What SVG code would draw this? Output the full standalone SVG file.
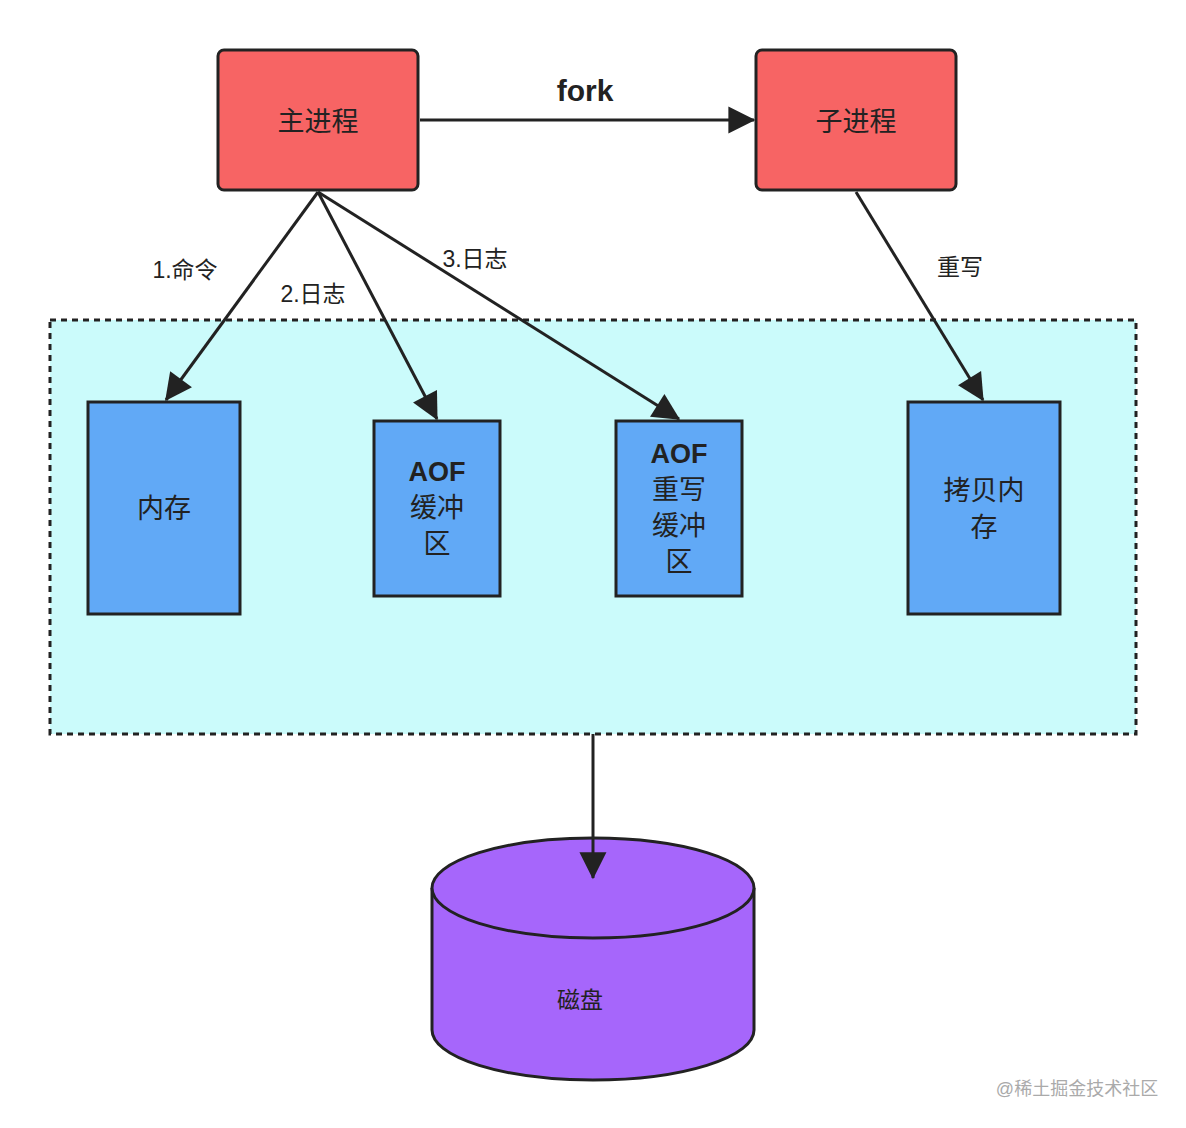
<svg xmlns="http://www.w3.org/2000/svg" width="1186" height="1128" viewBox="0 0 1186 1128">
<style>
text{font-family:"Liberation Sans","Noto Sans CJK SC",sans-serif;fill:#222;text-anchor:middle}
.proc{fill:#f76464;stroke:#222;stroke-width:3}
.mem{fill:#61a9f6;stroke:#222;stroke-width:3}
.c{stroke:#222;stroke-width:3;fill:none;marker-end:url(#a)}
.t{font-size:27px}
.l{font-size:23px}
</style>
<defs><marker id="a" viewBox="0 0 10 10" refX="9" refY="5" markerWidth="9" markerHeight="9" markerUnits="userSpaceOnUse" orient="auto" style="overflow:visible"><path d="M0,0 L10,5 L0,10 z" fill="#222" transform="scale(3) translate(-6.5,-3.3)"/></marker></defs>
<rect width="1186" height="1128" fill="#fff"/>
<g id="container"><rect x="50" y="320" width="1086" height="414" fill="#cbfbfb" stroke="#222" stroke-width="3" stroke-dasharray="6,5"/></g>
<g id="main"><rect class="proc" x="218" y="50" width="200" height="140" rx="6"/><text class="t" x="318" y="131">主进程</text></g>
<g id="child"><rect class="proc" x="756" y="50" width="200" height="140" rx="6"/><text class="t" x="856" y="131">子进程</text></g>
<g id="mem"><rect class="mem" x="88" y="402" width="152" height="212"/><text class="t" x="164" y="518">内存</text></g>
<g id="aof"><rect class="mem" x="374" y="421" width="126" height="175"/><text class="t" x="437" y="481" font-weight="bold">AOF</text><text class="t" x="437" y="517">缓冲</text><text class="t" x="437" y="553">区</text></g>
<g id="aofrw"><rect class="mem" x="616" y="421" width="126" height="175"/><text class="t" x="679" y="463" font-weight="bold">AOF</text><text class="t" x="679" y="499">重写</text><text class="t" x="679" y="535">缓冲</text><text class="t" x="679" y="571">区</text></g>
<g id="copy"><rect class="mem" x="908" y="402" width="152" height="212"/><text class="t" x="984" y="500">拷贝内</text><text class="t" x="984" y="537">存</text></g>
<g id="disk">
<path d="M432,888 L432,1030 A161,50 0 0 0 754,1030 L754,888" fill="#a666fb" stroke="#222" stroke-width="3"/>
<ellipse cx="593" cy="888" rx="161" ry="50" fill="#a666fb" stroke="#222" stroke-width="3"/>
<text class="l" x="580" y="1008">磁盘</text></g>
<g id="connectors">
<path class="c" d="M420,120 L754,120"/>
<path class="c" d="M318,192 L166,400"/>
<path class="c" d="M318,192 L437,419"/>
<path class="c" d="M318,192 L679,419"/>
<path class="c" d="M856,192 L983,400"/>
<path class="c" d="M593,734 L593,878"/>
<text x="585" y="101" font-size="30" font-weight="bold">fork</text>
<text class="l" x="185" y="278">1.命令</text>
<text class="l" x="313" y="302">2.日志</text>
<text class="l" x="475" y="267">3.日志</text>
<text class="l" x="960" y="275">重写</text>
</g>
<text x="1077" y="1095" font-size="18" fill="#999" style="fill:#aaa">@稀土掘金技术社区</text>
</svg>
